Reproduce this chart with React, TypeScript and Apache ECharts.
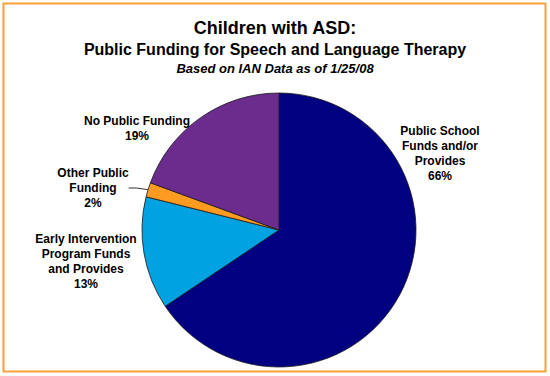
import React, { useEffect, useRef } from "react";
import * as echarts from "echarts";

const titleLines = [
  "Children with ASD:",
  "Public Funding for Speech and Language Therapy",
  "Based on IAN Data as of 1/25/08",
];
const categories = [
  "Public School\nFunds and/or\nProvides",
  "Early Intervention\nProgram Funds\nand Provides",
  "Other Public\nFunding",
  "No Public Funding",
];
const values = [65.6, 13.3, 1.7, 19.4];
const percentLabels = ["66%", "13%", "2%", "19%"];
const colors = ["#000080", "#00A2E2", "#FF9B21", "#6B2C8E"];
const showLeader = [false, false, true, false];

// label block centers (layout only)
const labelCenters = [
  [440, 153],
  [86, 261],
  [93, 188],
  [137, 128],
];

const FONT = "'Liberation Sans', Arial, sans-serif";

export default function App() {
  const ref = useRef<HTMLDivElement>(null);
  useEffect(() => {
    const chart = echarts.init(ref.current!, undefined, { renderer: "svg" });
    chart.setOption({
      animation: false,
      backgroundColor: "#ffffff",
      title: [
        {
          text: titleLines[0],
          left: "center",
          top: 14,
          textStyle: { fontFamily: FONT, fontSize: 18, fontWeight: "bold", color: "#000" },
        },
        {
          text: titleLines[1],
          left: "center",
          top: 36,
          textStyle: { fontFamily: FONT, fontSize: 16, fontWeight: "bold", color: "#000" },
        },
        {
          text: titleLines[2],
          left: "center",
          top: 57,
          textStyle: {
            fontFamily: FONT,
            fontSize: 13,
            fontWeight: "bold",
            fontStyle: "italic",
            color: "#000",
          },
        },
      ],
      graphic: [
        {
          type: "rect",
          shape: { x: 3.5, y: 3.5, width: 542, height: 368 },
          style: { fill: "none", stroke: "#F9A03A", lineWidth: 2 },
          silent: true,
        },
      ],
      series: [
        {
          type: "pie",
          center: [279, 230],
          radius: 137,
          startAngle: 90,
          clockwise: true,
          avoidLabelOverlap: false,
          itemStyle: { borderColor: "#1a1a1a", borderWidth: 0.8 },
          label: {
            show: true,
            position: "outside",
            fontFamily: FONT,
            fontSize: 12,
            fontWeight: "bold",
            color: "#000",
            lineHeight: 15,
            align: "center",
            formatter: (p: any) => p.name + "\n" + percentLabels[p.dataIndex],
          },
          labelLine: {
            show: true,
            length: 8,
            length2: 8,
            smooth: false,
            lineStyle: { color: "#333", width: 1 },
          },
          labelLayout: (p: any) => {
            const c = labelCenters[p.dataIndex];
            return {
              x: c[0],
              y: c[1],
              align: "center",
              verticalAlign: "middle",
            };
          },
          data: categories.map((name, i) => ({
            name,
            value: values[i],
            itemStyle: { color: colors[i] },
            labelLine: { show: showLeader[i] },
          })),
        },
      ],
    });
    return () => chart.dispose();
  }, []);
  return (
    <div
      ref={ref}
      style={{ position: "absolute", left: 0, top: 0, width: 550, height: 376 }}
    />
  );
}
